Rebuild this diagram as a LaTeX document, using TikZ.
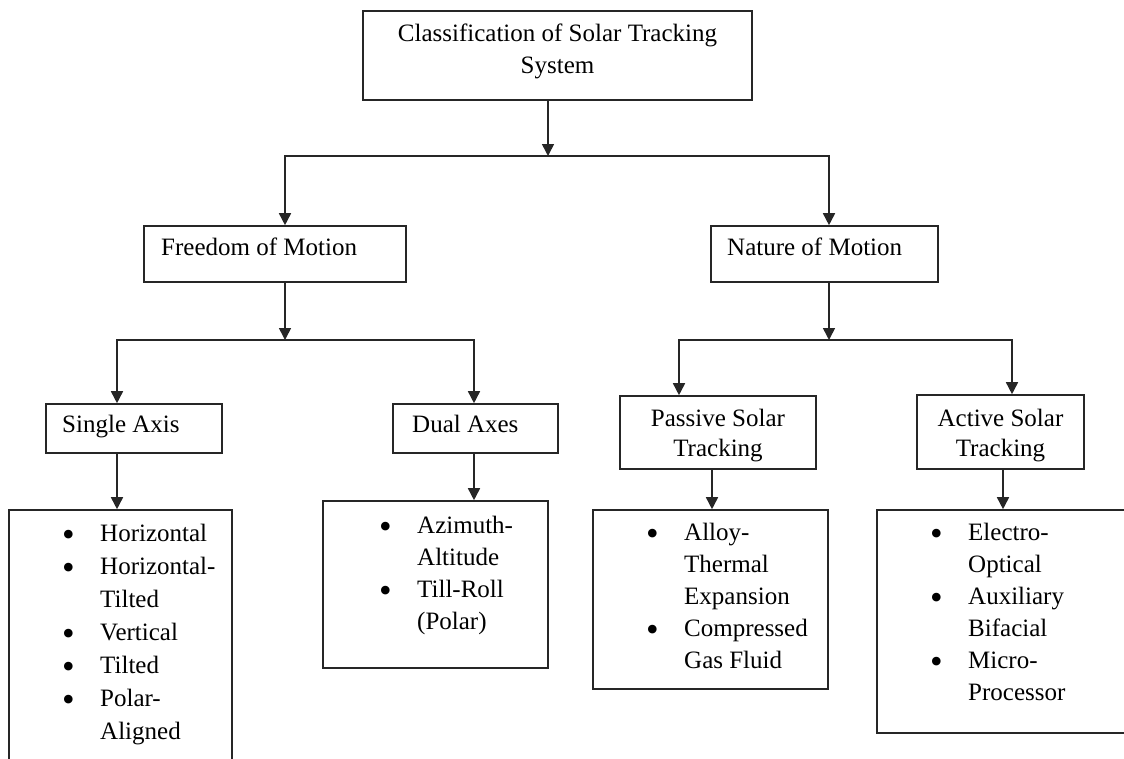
\documentclass[tikz,border=0pt]{standalone}
\usepackage{fontspec}
\setmainfont{Liberation Serif}
\usetikzlibrary{arrows.meta}
\newcommand\bulmark{\makebox[38pt][l]{\raisebox{-5.5pt}{\fontsize{36}{0}\selectfont\textbullet}}}
\begin{document}
\begin{tikzpicture}[x=1pt,y=-1pt,
  box/.style={draw=black!85, line width=1.6pt, rectangle, inner sep=0pt},
  arr/.style={draw=black!85, line width=1.6pt, -{Triangle[length=12pt,width=12pt]}},
  txt/.style={inner sep=0pt, anchor=base west, font=\fontsize{25}{32}\selectfont},
  ctxt/.style={inner sep=0pt, anchor=base, font=\fontsize{25}{32}\selectfont}]
\useasboundingbox (0,0) rectangle (1124,758);
\clip (0,0) rectangle (1124,758);
% boxes
\node[box, minimum width=389pt, minimum height=89pt] (top) at (557.5,55.5) {};
\node[box, minimum width=262pt, minimum height=56pt] (freedom) at (275,254) {};
\node[box, minimum width=227pt, minimum height=56pt] (nature) at (824.5,254) {};
\node[box, minimum width=176pt, minimum height=49pt] (single) at (134,428.5) {};
\node[box, minimum width=165pt, minimum height=49pt] (dual) at (475.5,428.5) {};
\node[box, minimum width=196pt, minimum height=73pt] (passive) at (718,432.5) {};
\node[box, minimum width=167pt, minimum height=74pt] (active) at (1000.5,432) {};
\node[box, minimum width=223pt, minimum height=290pt] (singlelist) at (120.5,655) {};
\node[box, minimum width=225pt, minimum height=167pt] (duallist) at (435.5,584.5) {};
\node[box, minimum width=235pt, minimum height=179pt] (passivelist) at (710.5,599.5) {};
\node[box, minimum width=258pt, minimum height=223pt] (activelist) at (1006,621.5) {};
% texts
\node[ctxt] (toptext) at (557.5,41) {\begin{tabular}[t]{@{}c@{}}Classification of Solar Tracking\\ System\end{tabular}};
\node[txt] (freedomtext) at (161,255) {Freedom of Motion};
\node[txt] (naturetext) at (727,255) {Nature of Motion};
\node[txt] (singletext) at (62,432) {Single Axis};
\node[txt] (dualtext) at (412,432) {Dual Axes};
\node[ctxt, font=\fontsize{25}{30}\selectfont] (passivetext) at (718,426) {\begin{tabular}[t]{@{}c@{}}Passive Solar\\ Tracking\end{tabular}};
\node[ctxt, font=\fontsize{25}{30}\selectfont] (activetext) at (1000.5,426) {\begin{tabular}[t]{@{}c@{}}Active Solar\\ Tracking\end{tabular}};
\node[txt, font=\fontsize{25}{33}\selectfont] (singleitems) at (62,541) {\begin{tabular}[t]{@{}l@{}l@{}}
\bulmark & Horizontal\\ \bulmark & Horizontal-\\ & Tilted\\ \bulmark & Vertical\\ \bulmark & Tilted\\ \bulmark & Polar-\\ & Aligned\end{tabular}};
\node[txt] (dualitems) at (379,533) {\begin{tabular}[t]{@{}l@{}l@{}}
\bulmark & Azimuth-\\ & Altitude\\ \bulmark & Till-Roll\\ & (Polar)\end{tabular}};
\node[txt] (passiveitems) at (646,540) {\begin{tabular}[t]{@{}l@{}l@{}}
\bulmark & Alloy-\\ & Thermal\\ & Expansion\\ \bulmark & Compressed\\ & Gas Fluid\end{tabular}};
\node[txt] (activeitems) at (930,540) {\begin{tabular}[t]{@{}l@{}l@{}}
\bulmark & Electro-\\ & Optical\\ \bulmark & Auxiliary\\ & Bifacial\\ \bulmark & Micro-\\ & Processor\end{tabular}};
% connectors
\coordinate (j0) at (548,156);
\coordinate (b0l) at (285,156);
\coordinate (b0r) at (829,156);
\draw[arr] (j0 |- top.south) -- (j0);
\draw[arr] (j0) -| (b0l |- freedom.north);
\draw[arr] (j0) -| (b0r |- nature.north);
\coordinate (j1) at (285,340);
\coordinate (b1l) at (117,340);
\coordinate (b1r) at (474,340);
\draw[arr] (j1 |- freedom.south) -- (j1);
\draw[arr] (j1) -| (b1l |- single.north);
\draw[arr] (j1) -| (b1r |- dual.north);
\coordinate (j2) at (829,340);
\coordinate (b2l) at (679,340);
\coordinate (b2r) at (1012,340);
\draw[arr] (j2 |- nature.south) -- (j2);
\draw[arr] (j2) -| (b2l |- passive.north);
\draw[arr] (j2) -| (b2r |- active.north);
\draw[arr] (b1l |- single.south) -- (b1l |- singlelist.north);
\draw[arr] (b1r |- dual.south) -- (b1r |- duallist.north);
\coordinate (p1) at (712,0);
\coordinate (a1) at (1003,0);
\draw[arr] (p1 |- passive.south) -- (p1 |- passivelist.north);
\draw[arr] (a1 |- active.south) -- (a1 |- activelist.north);
\end{tikzpicture}
\end{document}
